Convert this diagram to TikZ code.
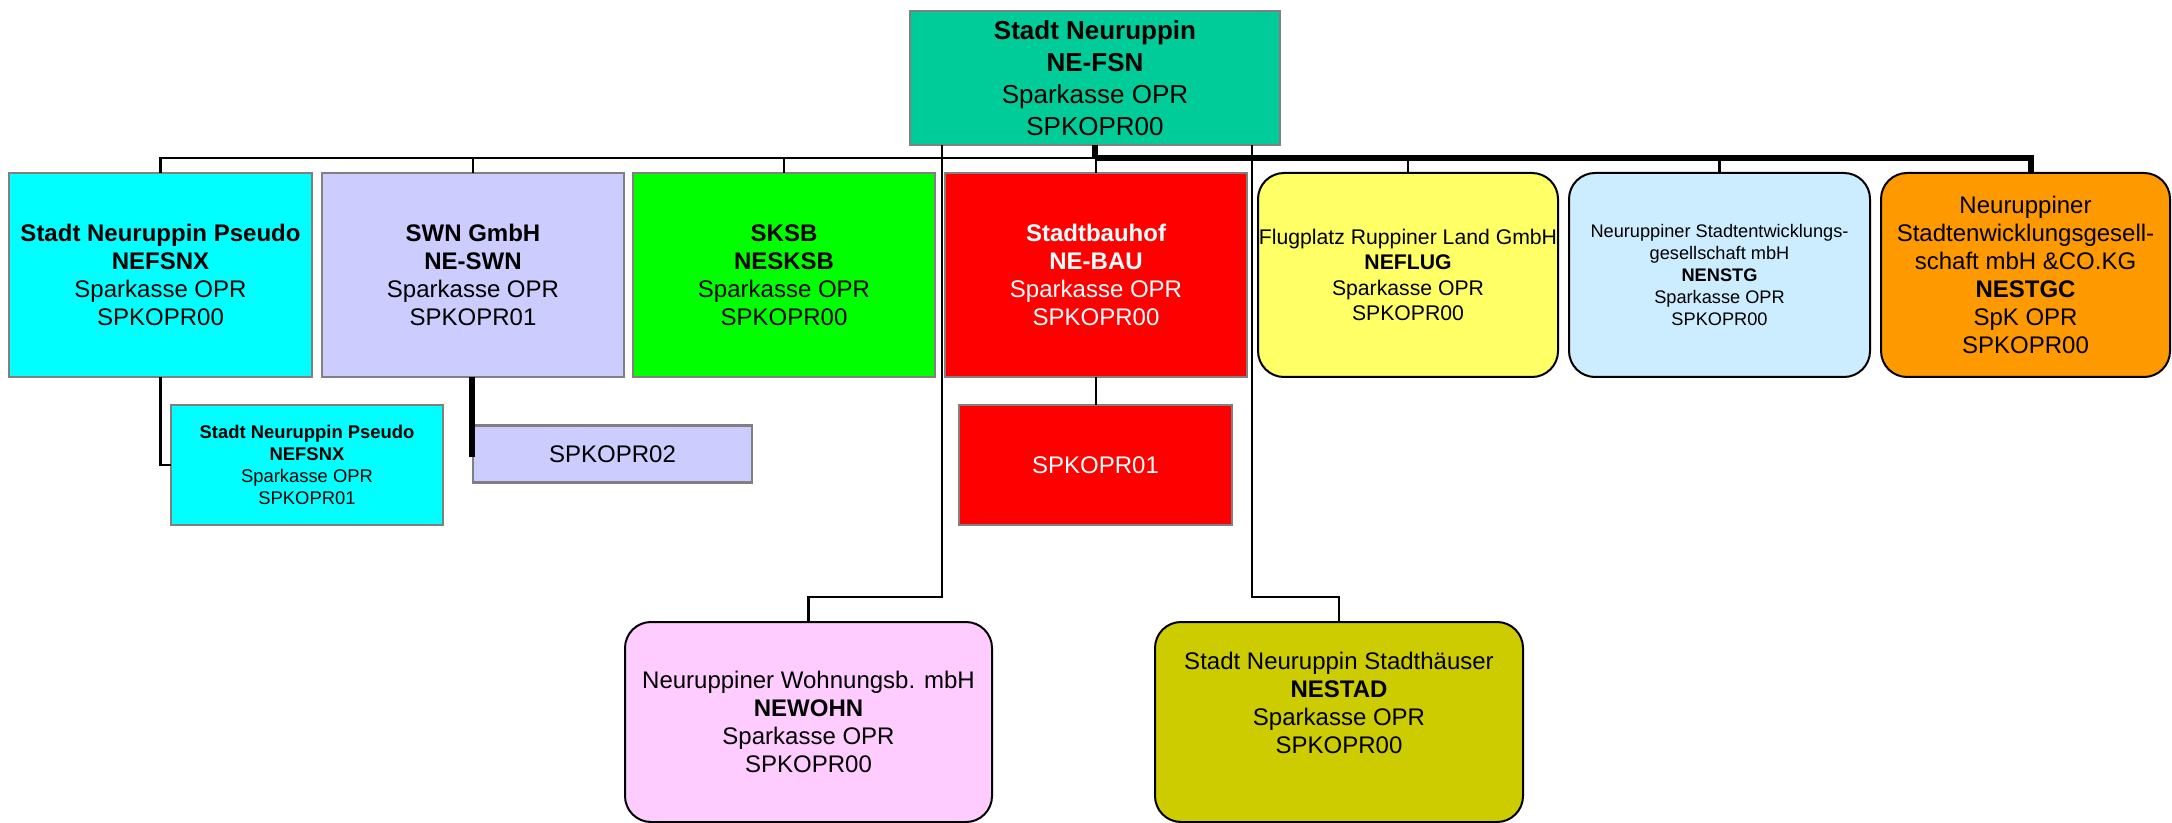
\documentclass[tikz,border=0pt]{standalone}
\usepackage{fontspec}
\setmainfont{Liberation Sans}
\definecolor{rootc}{HTML}{00CC99}
\definecolor{cyanc}{HTML}{00FFFF}
\definecolor{lavc}{HTML}{CCCCFF}
\definecolor{greenc}{HTML}{00FF00}
\definecolor{redc}{HTML}{FF0000}
\definecolor{yellc}{HTML}{FFFF66}
\definecolor{lbluec}{HTML}{CCECFF}
\definecolor{orangec}{HTML}{FF9900}
\definecolor{pinkc}{HTML}{FFCCFF}
\definecolor{olivec}{HTML}{CCCC00}
\definecolor{bordergray}{HTML}{808080}
\begin{document}
\begin{tikzpicture}[x=0.5pt,y=-0.5pt,
  sqbox/.style={draw=bordergray, line width=1.4pt, inner sep=0pt, outer sep=0pt, align=center},
  rdbox/.style={draw=black, line width=1pt, rounded corners=13pt, inner sep=0pt, outer sep=0pt, align=center},
  fbig/.style={font=\fontsize{12}{14}\selectfont},
  fsmall/.style={font=\fontsize{9.2}{11}\selectfont},
  thinline/.style={draw=black, line width=1.3pt},
  thickline/.style={draw=black, line width=3pt},
  midline/.style={draw=black, line width=2.7pt}]
\useasboundingbox (0,0) rectangle (2172,823);

% top
\node[sqbox, fill=rootc, minimum width=185pt, minimum height=67pt, font=\fontsize{13}{16}\selectfont] (root) at (1095,78)
  {\textbf{Stadt Neuruppin}\\ \textbf{NE-FSN}\\ Sparkasse OPR\\ SPKOPR00};

% second row
\node[sqbox, fill=cyanc, minimum width=151.5pt, minimum height=102pt, fbig] (b1) at (160.5,275)
  {\textbf{Stadt Neuruppin Pseudo}\\ \textbf{NEFSNX}\\ Sparkasse OPR\\ SPKOPR00};
\node[sqbox, fill=lavc, minimum width=151pt, minimum height=102pt, fbig] (b2) at (473,275)
  {\textbf{SWN GmbH}\\ \textbf{NE-SWN}\\ Sparkasse OPR\\ SPKOPR01};
\node[sqbox, fill=greenc, minimum width=151pt, minimum height=102pt, fbig] (sksb) at (784,275)
  {\textbf{SKSB}\\ \textbf{NESKSB}\\ Sparkasse OPR\\ SPKOPR00};
\node[sqbox, fill=redc, minimum width=151pt, minimum height=102pt, fbig, text=white] (bau) at (1096,275)
  {\textbf{Stadtbauhof}\\ \textbf{NE-BAU}\\ Sparkasse OPR\\ SPKOPR00};
\node[rdbox, fill=yellc, minimum width=150pt, minimum height=102pt, font=\fontsize{10.6}{12.8}\selectfont] (flug) at (1408,275)
  {Flugplatz Ruppiner Land GmbH\\ \textbf{NEFLUG}\\ Sparkasse OPR\\ SPKOPR00};
\node[rdbox, fill=lbluec, minimum width=150.5pt, minimum height=102pt, font=\fontsize{9.1}{11}\selectfont] (nstg) at (1719.5,275)
  {Neuruppiner Stadtentwicklungs-\\ gesellschaft mbH\\ \textbf{NENSTG}\\ Sparkasse OPR\\ SPKOPR00};
\node[rdbox, fill=orangec, minimum width=144.5pt, minimum height=102pt, fbig] (nstgc) at (2025.5,275)
  {Neuruppiner\\ Stadtenwicklungsgesell-\\ schaft mbH \&CO.KG\\ \textbf{NESTGC}\\ SpK OPR\\ SPKOPR00};

% third row
\node[sqbox, fill=cyanc, minimum width=136pt, minimum height=60pt, fsmall] (subcyan) at (307,465)
  {\textbf{Stadt Neuruppin Pseudo}\\ \textbf{NEFSNX}\\ Sparkasse OPR\\ SPKOPR01};
\node[sqbox, fill=lavc, minimum width=139.5pt, minimum height=28.5pt, fbig] (spk02) at (612.5,454)
  {SPKOPR02};
\node[sqbox, fill=redc, minimum width=136.5pt, minimum height=60pt, fbig, text=white] (subred) at (1095.5,465)
  {SPKOPR01};

% bottom row
\node[rdbox, fill=pinkc, minimum width=183.5pt, minimum height=100pt, fbig] (newohn) at (808.5,722)
  {Neuruppiner Wohnungsb. mbH\\ \textbf{NEWOHN}\\ Sparkasse OPR\\ SPKOPR00};
\node[rdbox, fill=olivec, minimum width=184pt, minimum height=100pt] (nestad) at (1339,722) {};
\node[fbig, align=center, inner sep=0pt] (nestadtxt) at ([yshift=9.5pt]nestad.center)
  {Stadt Neuruppin Stadthäuser\\ \textbf{NESTAD}\\ Sparkasse OPR\\ SPKOPR00};

% connectors
\coordinate (hub) at (1095,158);
\draw[thinline] (hub) -| (b1.north);
\draw[thinline] (hub) -| (b2.north);
\draw[thinline] (hub) -| (sksb.north);
\draw[thinline] (hub) -| (bau.north);
\draw[thinline] (hub) -| (flug.north);
\draw[thinline] (hub) -| (nstg.north);
\draw[thickline] (root.south) -- (hub);
\draw[thickline] (hub) -| ([xshift=2.75pt]nstgc.north);

\draw[thinline] ([xshift=16pt]root.south west) |- ([yshift=12.5pt]newohn.north) -- (newohn.north);
\draw[thinline] ([xshift=-14pt]root.south east) |- ([yshift=12.5pt]nestad.north) -- (nestad.north);

\draw[thinline] (b1.south) |- (subcyan.west);
\draw[midline] ([xshift=-0.5pt]b2.south) -- ++(0,80);
\draw[thinline] (bau.south) -- (bau.south |- subred.north);
\end{tikzpicture}
\end{document}
